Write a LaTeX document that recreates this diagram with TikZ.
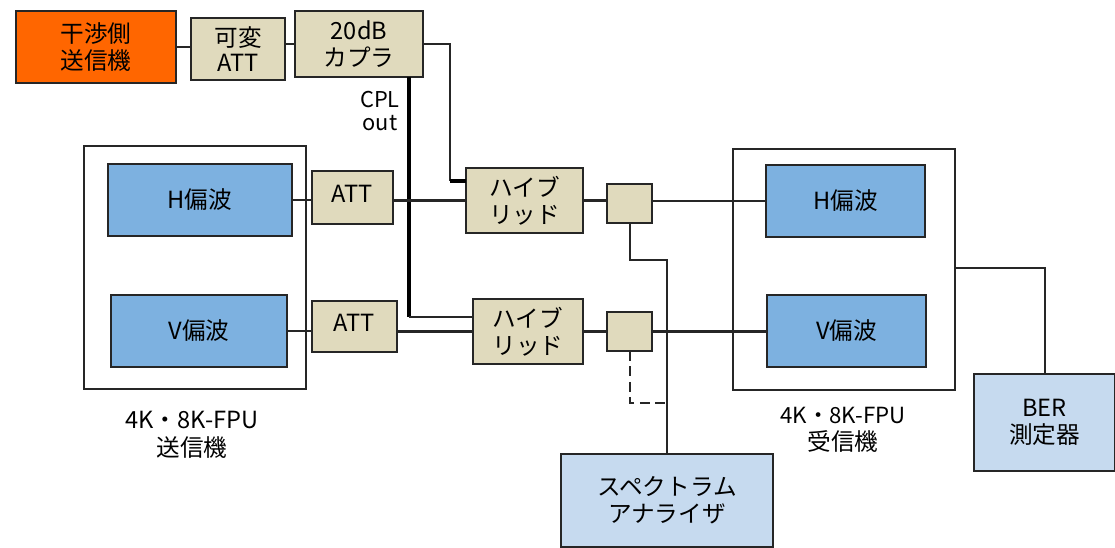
\documentclass[tikz,border=0pt]{standalone}
\usepackage{fontspec}
\setmainfont{Noto Sans CJK JP}
\usepackage{tikz}
\usetikzlibrary{calc}
\definecolor{jamorange}{HTML}{FF6600}
\definecolor{parttan}{HTML}{E0DABD}
\definecolor{polblue}{HTML}{7DB1E0}
\definecolor{measblue}{HTML}{C6DAEF}
\tikzset{
    unit/.style={draw=black!85,line width=2pt,align=center,inner sep=0pt,outer sep=0pt},
    part/.style={unit,fill=parttan},
    pol/.style={unit,fill=polblue},
    meas/.style={unit,fill=measblue},
    frame/.style={draw=black!85,line width=1.7pt,inner sep=0pt,outer sep=0pt},
    caption/.style={align=center,inner sep=0pt},
    wire/.style={draw=black!85,line width=2pt},
    heavy/.style={draw=black,line width=2.8pt},
}
\begin{document}
\begin{tikzpicture}[font=\fontsize{16.8}{19.5}\selectfont,x=0.025cm,y=-0.025cm]
    \useasboundingbox (0,0) rectangle (1115,547);

    \node[frame,minimum width=222*0.025cm,minimum height=243*0.025cm] (txframe) at (195,267.5) {};
    \node[frame,minimum width=222*0.025cm,minimum height=241*0.025cm] (rxframe) at (844,269.5) {};

    \node[unit,fill=jamorange,minimum width=160*0.025cm,minimum height=72*0.025cm] (jammer) at (96,47) {干渉側\\送信機};
    \node[part,minimum width=94*0.025cm,minimum height=62*0.025cm] (varatt) at (238,49) {可変\\[-2pt]ATT};
    \node[part,minimum width=128*0.025cm,minimum height=66*0.025cm] (coupler) at (359,44) {\raisebox{1pt}{20dB}\\[-1pt]カプラ};
    \node[caption,font=\fontsize{15.5}{17}\selectfont] (cplout) at (380,111) {CPL\\out};

    \node[pol,minimum width=184*0.025cm,minimum height=72*0.025cm] (txh) at (200,200) {\raisebox{2pt}{H偏波}};
    \node[pol,minimum width=176*0.025cm,minimum height=72*0.025cm] (txv) at (199,331) {\raisebox{2pt}{V偏波}};
    \node[part,minimum width=81*0.025cm,minimum height=53*0.025cm] (atth) at (352.5,197.5) {\raisebox{5pt}{ATT}};
    \node[part,minimum width=85*0.025cm,minimum height=51*0.025cm] (attv) at (354.5,326.5) {\raisebox{5pt}{ATT}};

    \node[part,minimum width=117*0.025cm,minimum height=65*0.025cm] (hybh) at (524.5,200.5) {ハイブ\\リッド};
    \node[part,minimum width=110*0.025cm,minimum height=65*0.025cm] (hybv) at (528,331.5) {ハイブ\\リッド};
    \node[part,minimum width=45*0.025cm,minimum height=39*0.025cm] (splith) at (629.5,203.5) {};
    \node[part,minimum width=45*0.025cm,minimum height=39*0.025cm] (splitv) at (629.5,331.5) {};

    \node[pol,minimum width=159*0.025cm,minimum height=72*0.025cm] (rxh) at (845.5,201) {\raisebox{1.5pt}{H偏波}};
    \node[pol,minimum width=159*0.025cm,minimum height=72*0.025cm] (rxv) at (846.5,331) {\raisebox{2pt}{V偏波}};

    \node[meas,minimum width=141*0.025cm,minimum height=97*0.025cm] (ber) at (1044.5,422.5) {BER\\測定器};
    \node[meas,minimum width=212*0.025cm,minimum height=93*0.025cm] (specan) at (667,500.5) {スペクトラム\\アナライザ};

    \node[caption] (txname) at (192,435) {4K・8K-FPU\\送信機};
    \node[caption] (rxname) at (843,430) {{\fontsize{15.8}{19.5}\selectfont 4K・8K-FPU}\\受信機};

    \coordinate (cplright) at (450,44);
    \coordinate (cplleft) at (409,77);
    \coordinate (hybhtap) at (450,181);
    \coordinate (hybvtap) at (409,317);
    \coordinate (specbend) at (630,260);
    \coordinate (specin) at (667,260);
    \coordinate (dashbend) at (630,403);
    \coordinate (dashend) at (665,403);
    \coordinate (rxout) at (955,268);
    \coordinate (berbend) at (1045,268);

    \draw[wire] (jammer.east) -- (jammer.east -| varatt.west);
    \draw[wire] (varatt.east |- coupler.east) -- (coupler.west);
    \draw[wire] (coupler.east) -- (cplright) -- (hybhtap);
    \draw[heavy] (hybhtap) -- (hybhtap -| hybh.west);
    \draw[heavy] (cplleft) -- (hybvtap);
    \draw[wire] (hybvtap) -- (hybvtap -| hybv.west);

    \draw[wire] (txh.east) -- (txh.east -| atth.west);
    \draw[wire] (txv.east) -- (txv.east -| attv.west);
    \draw[wire] (atth.east |- hybh.west) -- (hybh.west);
    \draw[wire] (attv.east |- hybv.west) -- (hybv.west);
    \draw[wire] (hybh.east) -- (hybh.east -| splith.west);
    \draw[wire] (hybv.east) -- (splitv.west);
    \draw[wire] (splith.east |- rxh.west) -- (rxh.west);
    \draw[wire] (splitv.east) -- (splitv.east -| rxv.west);

    \draw[wire] (splith.south -| specbend) -- (specbend) -- (specin) -- (specan.north);
    \draw[wire,dashed,dash pattern=on 7pt off 4pt] (splitv.south -| dashbend) -- (dashbend) -- (dashend);
    \draw[wire] (rxout) -- (berbend) -- (berbend |- ber.north);
\end{tikzpicture}
\end{document}
